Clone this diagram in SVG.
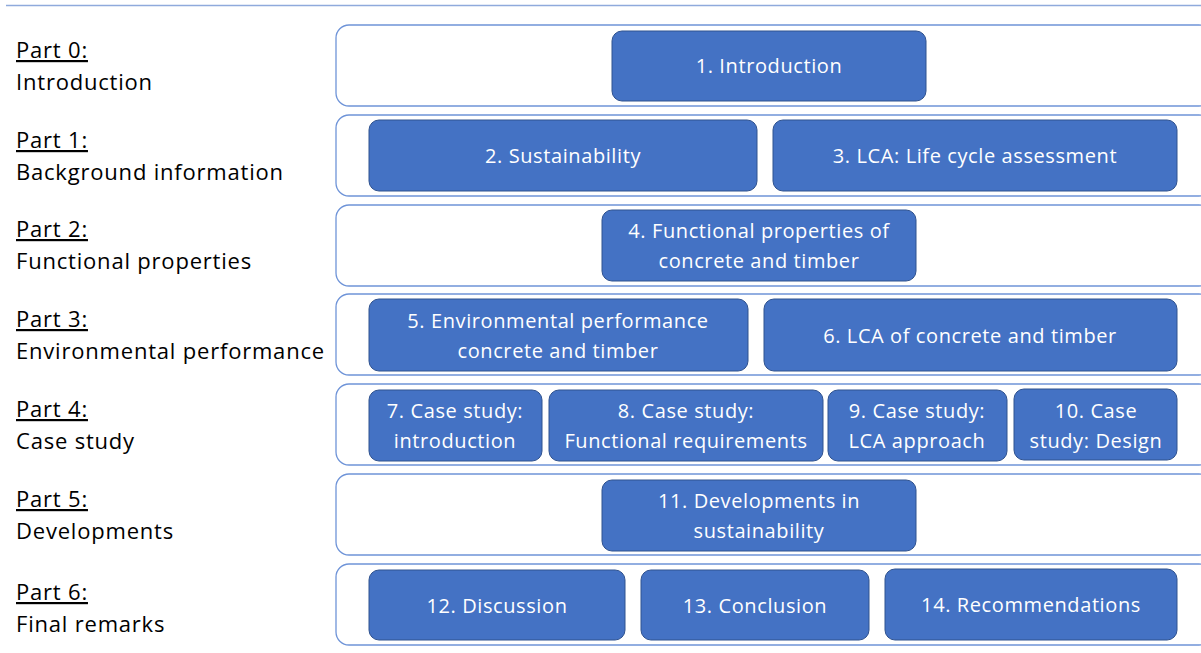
<svg xmlns="http://www.w3.org/2000/svg" width="1201" height="653" viewBox="0 0 1201 653">
  <style>
    .row { fill: #ffffff; stroke: #6f94d8; stroke-width: 1.3; }
    .box { fill: #4472c4; stroke: #2f528f; stroke-width: 1; }
    .bt { font-family: "Open Sans", "Liberation Sans", sans-serif; font-size: 20px; letter-spacing: 0.6px; fill: #ffffff; text-anchor: middle; }
    .lbl { font-family: "Open Sans", "Liberation Sans", sans-serif; font-size: 22px; letter-spacing: 0.8px; fill: #000000; }
    .ul { text-decoration: underline; }
  </style>
  <rect width="1201" height="653" fill="#ffffff"/>
  <line x1="6" y1="5.5" x2="1201" y2="5.5" stroke="#8faadc" stroke-width="1.5"/>

  <!-- part labels -->
  <g id="labels">
    <text class="lbl" x="16" y="58"><tspan class="ul">Part 0:</tspan><tspan x="16" y="90">Introduction</tspan></text>
    <text class="lbl" x="16" y="148"><tspan class="ul">Part 1:</tspan><tspan x="16" y="180">Background information</tspan></text>
    <text class="lbl" x="16" y="237"><tspan class="ul">Part 2:</tspan><tspan x="16" y="269">Functional properties</tspan></text>
    <text class="lbl" x="16" y="327"><tspan class="ul">Part 3:</tspan><tspan x="16" y="359">Environmental performance</tspan></text>
    <text class="lbl" x="16" y="417"><tspan class="ul">Part 4:</tspan><tspan x="16" y="449">Case study</tspan></text>
    <text class="lbl" x="16" y="507"><tspan class="ul">Part 5:</tspan><tspan x="16" y="539">Developments</tspan></text>
    <text class="lbl" x="16" y="600"><tspan class="ul">Part 6:</tspan><tspan x="16" y="632">Final remarks</tspan></text>
  </g>

  <!-- part containers -->
  <g id="rows">
    <rect class="row" x="336" y="25" width="876" height="81" rx="13"/>
    <rect class="row" x="336" y="115" width="876" height="81" rx="13"/>
    <rect class="row" x="336" y="205" width="876" height="81" rx="13"/>
    <rect class="row" x="336" y="294" width="876" height="81" rx="13"/>
    <rect class="row" x="336" y="384" width="876" height="81" rx="13"/>
    <rect class="row" x="336" y="474" width="876" height="81" rx="13"/>
    <rect class="row" x="336" y="564" width="876" height="81" rx="13"/>
  </g>

  <!-- chapters -->
  <g id="ch1"><rect class="box" x="612" y="31" width="314" height="70" rx="10"/><text class="bt" x="769" y="73">1. Introduction</text></g>
  <g id="ch2"><rect class="box" x="369" y="120" width="388" height="71" rx="10"/><text class="bt" x="563" y="163">2. Sustainability</text></g>
  <g id="ch3"><rect class="box" x="773" y="120" width="404" height="71" rx="10"/><text class="bt" x="975" y="163">3. LCA: Life cycle assessment</text></g>
  <g id="ch4"><rect class="box" x="602" y="210" width="314" height="71" rx="10"/><text class="bt" x="759" y="238">4. Functional properties of</text><text class="bt" x="759" y="268">concrete and timber</text></g>
  <g id="ch5"><rect class="box" x="369" y="299" width="379" height="72" rx="10"/><text class="bt" x="558" y="328">5. Environmental performance</text><text class="bt" x="558" y="358">concrete and timber</text></g>
  <g id="ch6"><rect class="box" x="764" y="299" width="413" height="72" rx="10"/><text class="bt" x="970" y="343">6. LCA of concrete and timber</text></g>
  <g id="ch7"><rect class="box" x="369" y="390" width="173" height="71" rx="10"/><text class="bt" x="455" y="418">7. Case study:</text><text class="bt" x="455" y="448">introduction</text></g>
  <g id="ch8"><rect class="box" x="549" y="390" width="274" height="71" rx="10"/><text class="bt" x="686" y="418">8. Case study:</text><text class="bt" x="686" y="448">Functional requirements</text></g>
  <g id="ch9"><rect class="box" x="828" y="390" width="179" height="71" rx="10"/><text class="bt" x="917" y="418">9. Case study:</text><text class="bt" x="917" y="448">LCA approach</text></g>
  <g id="ch10"><rect class="box" x="1014" y="389" width="163" height="71" rx="10"/><text class="bt" x="1096" y="418">10. Case</text><text class="bt" x="1096" y="448">study: Design</text></g>
  <g id="ch11"><rect class="box" x="602" y="480" width="314" height="71" rx="10"/><text class="bt" x="759" y="508">11. Developments in</text><text class="bt" x="759" y="538">sustainability</text></g>
  <g id="ch12"><rect class="box" x="369" y="570" width="256" height="70" rx="10"/><text class="bt" x="497" y="613">12. Discussion</text></g>
  <g id="ch13"><rect class="box" x="641" y="570" width="228" height="70" rx="10"/><text class="bt" x="755" y="613">13. Conclusion</text></g>
  <g id="ch14"><rect class="box" x="885" y="569" width="292" height="71" rx="10"/><text class="bt" x="1031" y="612">14. Recommendations</text></g>
</svg>
